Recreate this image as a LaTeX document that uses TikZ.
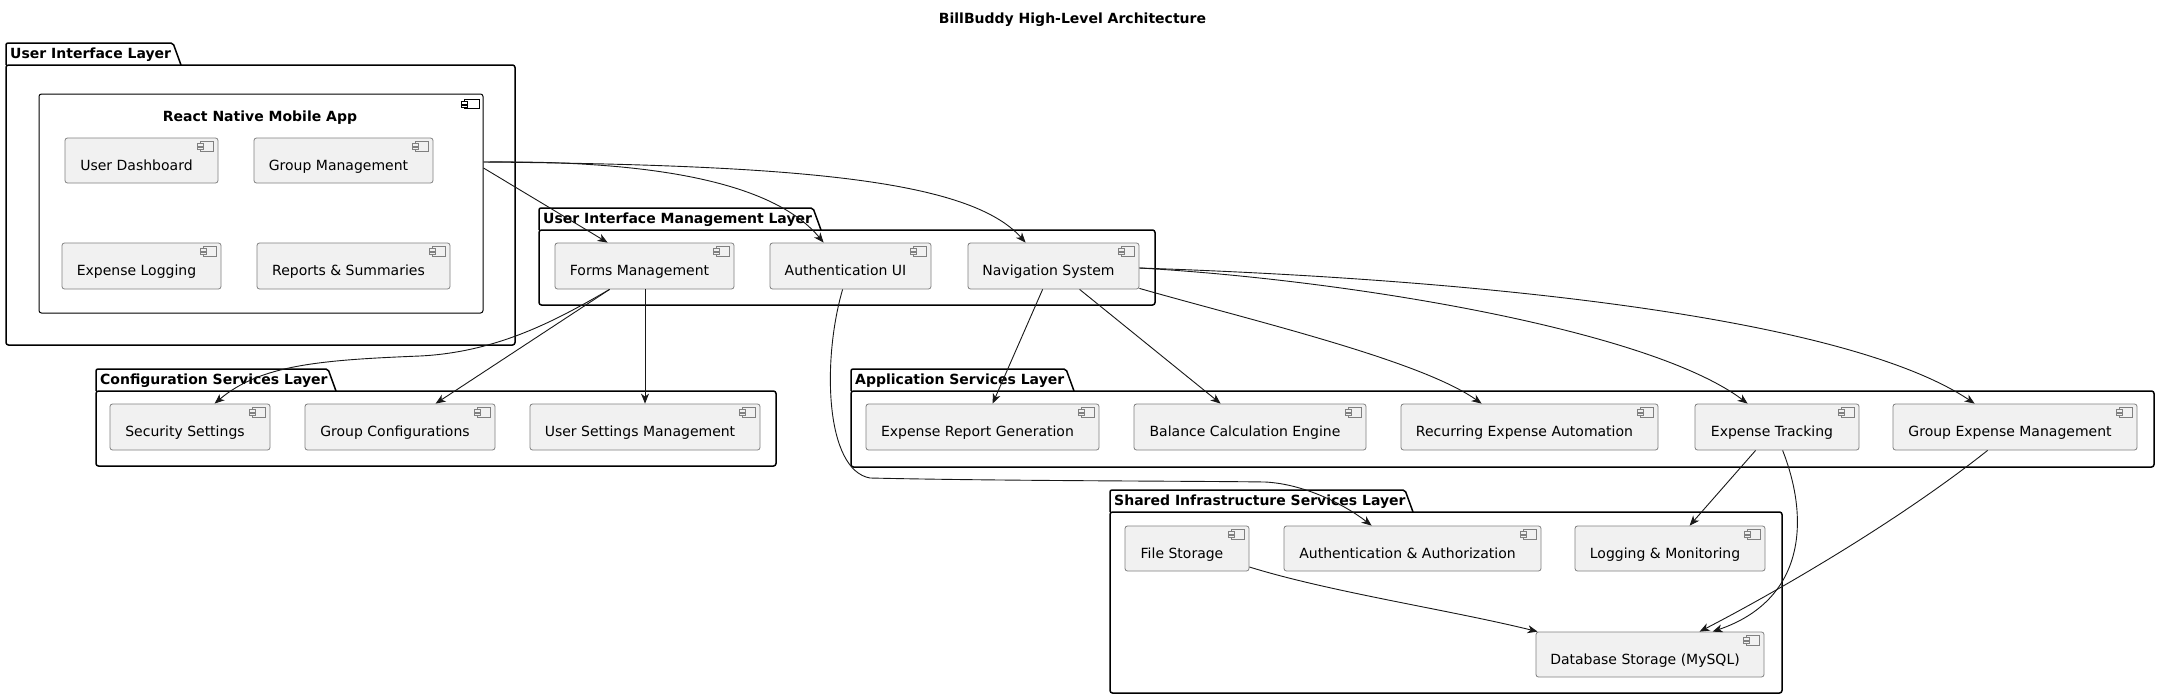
\documentclass[tikz,border=0pt]{standalone}
\usepackage{fontspec}
\setmainfont{DejaVu Sans}
\usetikzlibrary{arrows.meta}
\definecolor{compfill}{HTML}{F1F1F1}
\definecolor{compline}{HTML}{808080}
\definecolor{arrowc}{HTML}{181818}
\newcommand\placebox[7]{%
  \pgfmathsetmacro\mybw{#5-#3}\pgfmathsetmacro\mybh{#6-#4}%
  \node[#1, minimum width=\mybw pt, minimum height=\mybh pt] (#2) at ({(#3+#5)/2},{(#4+#6)/2}) {#7};}
\begin{document}
\begin{tikzpicture}[x=1pt,y=-1pt,
  comp/.style={draw=compline, fill=compfill, rounded corners=2.5pt, line width=0.8pt, inner sep=0pt,
    text height=19pt, text depth=0pt, font=\fontsize{14}{16}\selectfont,
    execute at end node={\hspace*{10pt}}},
  rnbox/.style={draw=black, fill=white, rounded corners=2.5pt, line width=1pt, inner sep=0pt},
  pkgbody/.style={draw=black, line width=1.5pt, rounded corners=2.5pt, inner sep=0pt},
  pkgtab/.style={draw=black, line width=1.5pt, rounded corners=2pt},
  pkglabel/.style={font=\fontsize{14}{16}\selectfont\bfseries, anchor=base west, inner sep=0pt},
  boldtext/.style={font=\fontsize{14}{16}\selectfont\bfseries, anchor=base, inner sep=0pt},
  conn/.style={draw=arrowc, line width=0.9pt, -{Stealth[length=10pt,width=8pt,inset=3pt]}},
  icon/.style={draw=compline, fill=compfill, line width=0.6pt}
]
\useasboundingbox (0,0) rectangle (2159,699);
\fill[white] (0,0) rectangle (2159,699);

\node[boldtext] (title) at (1072.5,23.5) {BillBuddy High-Level Architecture};

% ---------- packages ----------
\draw[pkgtab] (6,65) -- (6,43) -- (173,43) -- (181,65);
\placebox{pkgbody}{uil}{6}{65}{515}{345}{}
\node[pkglabel] (uillab) at (10,58.5) {User Interface Layer};

\draw[pkgtab] (539,230) -- (539,208) -- (813,208) -- (821,230);
\placebox{pkgbody}{uiml}{539}{230}{1155}{305}{}
\node[pkglabel] (uimllab) at (543,223.5) {User Interface Management Layer};

\draw[pkgtab] (96,391) -- (96,369) -- (328,369) -- (336,391);
\placebox{pkgbody}{csl}{96}{391}{776}{466}{}
\node[pkglabel] (csllab) at (100,384.5) {Configuration Services Layer};

\draw[pkgtab] (851,391) -- (851,369) -- (1066,369) -- (1074,391);
\placebox{pkgbody}{asl}{851}{391}{2154}{467}{}
\node[pkglabel] (asllab) at (855,384.5) {Application Services Layer};

\draw[pkgtab] (1110,512) -- (1110,490) -- (1405,490) -- (1413,512);
\placebox{pkgbody}{sisl}{1110}{512}{1782}{693}{}
\node[pkglabel] (sisllab) at (1114,505.5) {Shared Infrastructure Services Layer};

% ---------- React Native app ----------
\placebox{rnbox}{rn}{39}{94}{483}{313}{}
\node[boldtext] (rntitle) at (260,121) {React Native Mobile App};
\draw[icon, fill=white, draw=black] ([xshift=-19pt,yshift=-6pt]rn.north east) rectangle ([xshift=-4pt,yshift=-15pt]rn.north east);
\draw[icon, fill=white, draw=black] ([xshift=-22pt,yshift=-8pt]rn.north east) rectangle ([xshift=-16pt,yshift=-10.5pt]rn.north east);
\draw[icon, fill=white, draw=black] ([xshift=-22pt,yshift=-11.5pt]rn.north east) rectangle ([xshift=-16pt,yshift=-14pt]rn.north east);

% ---------- components ----------
\placebox{comp}{ud}{65}{138}{218}{183}{User Dashboard}
\placebox{comp}{gm}{254}{138}{433}{183}{Group Management}
\placebox{comp}{el}{62}{243}{221}{289}{Expense Logging}
\placebox{comp}{rs}{257}{243}{450}{289}{Reports \& Summaries}

\placebox{comp}{fm}{555}{243}{734}{289}{Forms Management}
\placebox{comp}{aui}{770}{243}{931}{289}{Authentication UI}
\placebox{comp}{nav}{968}{243}{1139}{289}{Navigation System}

\placebox{comp}{ss}{110}{404}{270}{450}{Security Settings}
\placebox{comp}{gc}{305}{404}{495}{450}{Group Configurations}
\placebox{comp}{usm}{530}{404}{760}{450}{User Settings Management}

\placebox{comp}{erg}{866}{404}{1099}{450}{Expense Report Generation}
\placebox{comp}{bce}{1134}{404}{1366}{450}{Balance Calculation Engine}
\placebox{comp}{rea}{1401}{404}{1658}{450}{Recurring Expense Automation}
\placebox{comp}{et}{1695}{404}{1859}{450}{Expense Tracking}
\placebox{comp}{gem}{1893}{404}{2137}{450}{Group Expense Management}

\placebox{comp}{fs}{1125}{526}{1249}{571}{File Storage}
\placebox{comp}{aa}{1284}{526}{1541}{571}{Authentication \& Authorization}
\placebox{comp}{lm}{1575}{526}{1765}{571}{Logging \& Monitoring}
\placebox{comp}{db}{1536}{632}{1764}{677}{Database Storage (MySQL)}

\foreach \n in {ud,gm,el,rs,fm,aui,nav,ss,gc,usm,erg,bce,rea,et,gem,fs,aa,lm,db}{
  \draw[icon] ([xshift=-18pt,yshift=-4pt]\n.north east) rectangle ([xshift=-5pt,yshift=-14pt]\n.north east);
  \draw[icon] ([xshift=-21pt,yshift=-6pt]\n.north east) rectangle ([xshift=-15pt,yshift=-8.5pt]\n.north east);
  \draw[icon] ([xshift=-21pt,yshift=-9.5pt]\n.north east) rectangle ([xshift=-15pt,yshift=-12pt]\n.north east);
}

% ---------- connectors ----------
\draw[conn] ([yshift=35.5pt]rn.east) -- ([xshift=53pt]fm.north west);
\draw[conn] ([yshift=41.5pt]rn.east) .. controls (680,160) and (780,190) .. ([xshift=54pt]aui.north west);
\draw[conn] ([yshift=41.5pt]rn.east) .. controls (800,165) and (970,180) .. ([xshift=58pt]nav.north west);

\draw[conn] ([xshift=55pt]fm.south west) .. controls (560,318) and (500,352) .. (420,356) .. controls (320,360) and (260,365) .. ([xshift=105pt]ss.north west);
\draw[conn] ([xshift=55pt]fm.south west) -- ([xshift=131pt]gc.north west);
\draw[conn] (fm.south -| usm.north) -- (usm.north);

\draw[conn] ([xshift=73pt]aui.south west) .. controls (822,360) and (825,470) .. (870,478) .. controls (1000,481) and (1200,481) .. (1265,482) .. controls (1305,484) and (1345,505) .. ([xshift=88pt]aa.north west);

\draw[conn] ([xshift=75pt]nav.south west) -- ([xshift=127pt]erg.north west);
\draw[conn] ([xshift=112pt]nav.south west) -- ([xshift=87pt]bce.north west);
\draw[conn] ([yshift=1pt]nav.south east) .. controls (1250,320) and (1420,360) .. ([xshift=81pt]rea.north west);
\draw[conn] ([yshift=-2pt]nav.east) .. controls (1350,280) and (1650,330) .. ([xshift=53pt]et.north west);
\draw[conn] ([yshift=-2pt]nav.east) .. controls (1500,280) and (1850,320) .. ([xshift=82pt]gem.north west);

\draw[conn] ([xshift=61pt]et.south west) -- ([xshift=115pt]lm.north west);
\draw[conn] ([xshift=88pt]et.south west) .. controls (1810,520) and (1805,600) .. ([xshift=177pt]db.north west);
\draw[conn] ([xshift=95pt]gem.south west) .. controls (1900,520) and (1780,590) .. ([xshift=164pt]db.north west);
\draw[conn] ([yshift=-18.5pt]fs.east) .. controls (1330,592) and (1450,610) .. ([xshift=2pt]db.north west);
\end{tikzpicture}
\end{document}
